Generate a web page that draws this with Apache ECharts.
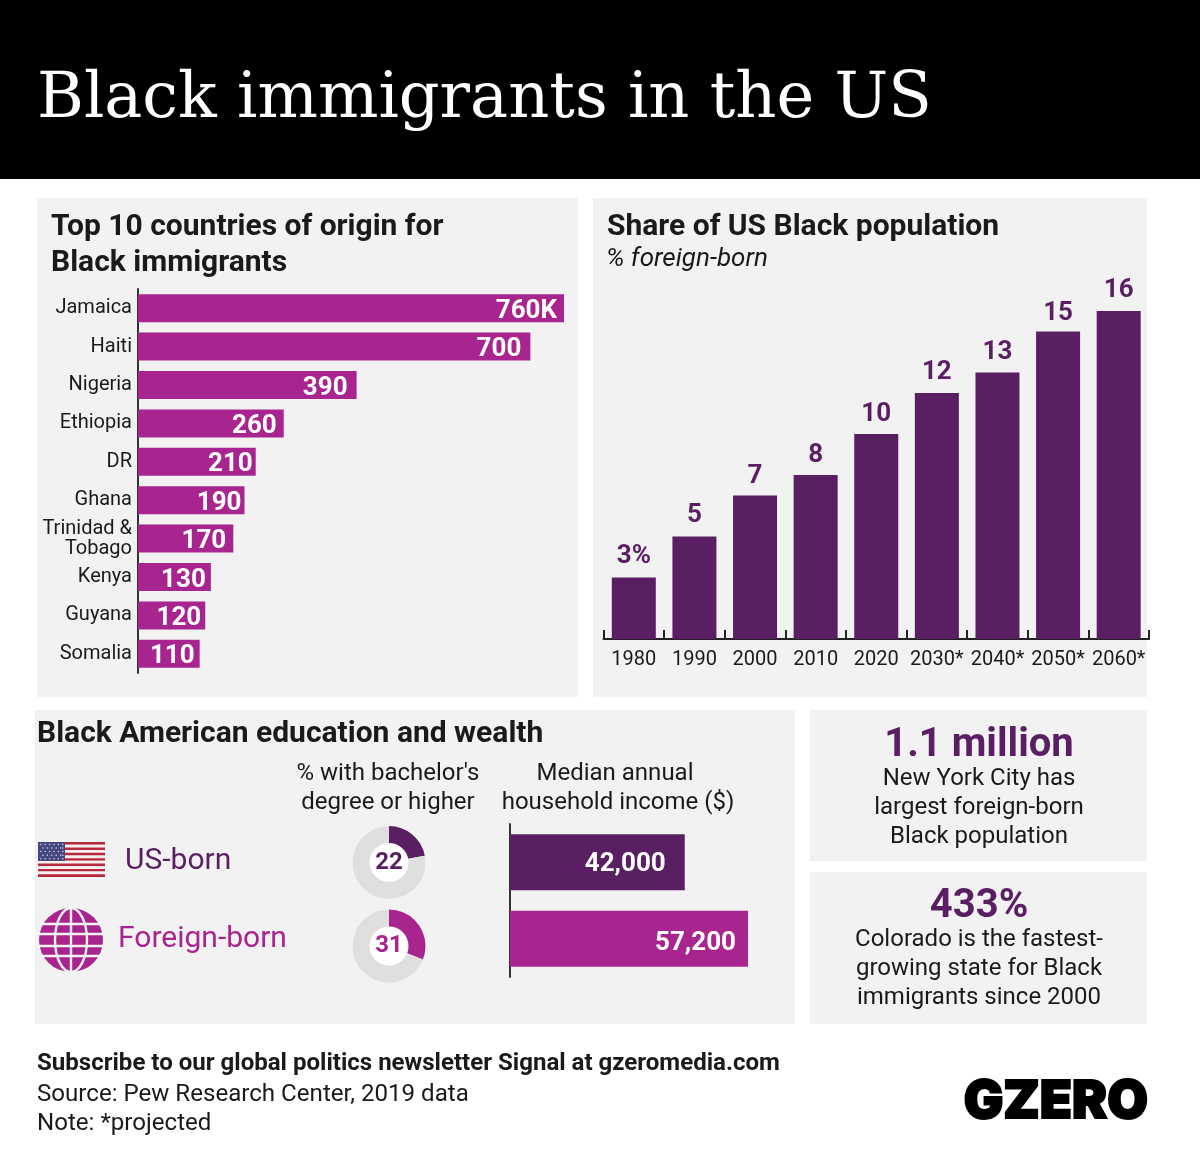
<!DOCTYPE html>
<html>
<head>
<meta charset="utf-8">
<title>Black immigrants in the US</title>
<style>
    html, body { margin: 0; padding: 0; background: #ffffff; }
    #my_chart { width: 1200px; height: 1156px; }
</style>
</head>
<body>
<div id="my_chart"></div>
<script src="https://cdn.jsdelivr.net/npm/echarts@6/dist/echarts.min.js"></script>
<script>
    // chart values
    var countries = ['Jamaica', 'Haiti', 'Nigeria', 'Ethiopia', 'DR', 'Ghana', 'Trinidad &\nTobago', 'Kenya', 'Guyana', 'Somalia'];
    var immigrants = [760, 700, 390, 260, 210, 190, 170, 130, 120, 110];
    var years = ['1980', '1990', '2000', '2010', '2020', '2030*', '2040*', '2050*', '2060*'];
    var foreignShare = [3, 5, 7, 8, 10, 12, 13, 15, 16];
    var groups = ['US-born', 'Foreign-born'];
    var bachelors = [22, 31];
    var income = [42000, 57200];

    // the value labels in the original sit at uneven distances from the bar ends
    var countryLabelGaps = [7, 9, 9, 7, 3, 3, 7, 5, 4, 5];
    var shareLabelGaps = [8, 8, 6, 7, 7, 8, 7, 5, 8];
    var incomeLabelGaps = [19, 12];
    var incomeLabelDrops = [2, 5];

    var PURPLE = '#5a1f63', MAGENTA = '#a8248f', PANEL = '#f2f2f2', RING = '#dfdfdf', INK = '#1a1a1a';
    var FONT = 'Roboto';

    function txt(x, y, text, size, opts) {
        opts = opts || {};
        return {
            type: 'text', x: x, y: y, z: 5, silent: true,
            style: {
                text: text,
                fontFamily: opts.family || FONT,
                fontSize: size,
                fontWeight: opts.weight || 'normal',
                fontStyle: opts.italic ? 'italic' : 'normal',
                fill: opts.color || INK,
                stroke: opts.stroke || null,
                lineWidth: opts.strokeWidth || 0,
                align: opts.align || 'left',
                verticalAlign: 'middle'
            }
        };
    }

    function panel(x, y, w, h, color) {
        return { type: 'rect', z: -10, silent: true, shape: { x: x, y: y, width: w, height: h }, style: { fill: color || PANEL } };
    }

    function flag(x, y, w, h) {
        var out = [];
        var sh = h / 13;
        for (var i = 0; i < 13; i++) {
            out.push({ type: 'rect', z: 1, silent: true, shape: { x: x, y: y + i * sh, width: w, height: sh },
                style: { fill: i % 2 ? '#f6f0f0' : '#b8283c' } });
        }
        out.push({ type: 'rect', z: 2, silent: true, shape: { x: x, y: y, width: 27, height: 19 }, style: { fill: '#45477f' } });
        for (var r = 0; r < 5; r++) {
            for (var c = 0; c < 6; c++) {
                out.push({ type: 'circle', z: 3, silent: true,
                    shape: { cx: x + 2.8 + c * 4.4 + (r % 2 ? 2.2 : 0) * (c < 5 ? 1 : 0), cy: y + 2.4 + r * 3.6, r: 0.75 },
                    style: { fill: '#d8d8e6' } });
            }
        }
        return out;
    }

    function globe(cx, cy, r) {
        var line = { stroke: PANEL, lineWidth: 2.4, fill: null };
        var out = [{ type: 'circle', z: 1, silent: true, shape: { cx: cx, cy: cy, r: r }, style: { fill: MAGENTA } }];
        [-16, -6, 6, 16].forEach(function (d) {
            out.push({ type: 'line', z: 2, silent: true, shape: { x1: cx - r, y1: cy + d, x2: cx + r, y2: cy + d }, style: line });
        });
        out.push({ type: 'line', z: 2, silent: true, shape: { x1: cx, y1: cy - r, x2: cx, y2: cy + r }, style: line });
        out.push({ type: 'ellipse', z: 2, silent: true, shape: { cx: cx, cy: cy, rx: 16, ry: r }, style: line });
        return out;
    }

    var elements = [
        panel(0, 0, 1200, 179, '#000000'),
        panel(37, 198, 541, 499),
        panel(593, 198, 554, 499),
        panel(35, 710, 760, 314),
        panel(810, 710, 337, 151),
        panel(810, 872, 337, 152),
        { type: 'circle', z: 1, silent: true, shape: { cx: 389, cy: 863, r: 20 }, style: { fill: '#ffffff' } },
        { type: 'circle', z: 1, silent: true, shape: { cx: 389, cy: 946, r: 20 }, style: { fill: '#ffffff' } },

        txt(37, 100, 'Black immigrants in the US', 63.8, { family: 'DejaVu Serif', color: '#ffffff' }),

        txt(51, 227, 'Top 10 countries of origin for', 30, { weight: 'bold' }),
        txt(51, 263, 'Black immigrants', 30, { weight: 'bold' }),
        txt(607, 227, 'Share of US Black population', 30, { weight: 'bold' }),
        txt(606, 259, '% foreign-born', 26, { italic: true }),
        txt(37, 734, 'Black American education and wealth', 30, { weight: 'bold' }),

        txt(388, 774, '% with bachelor\'s', 24, { align: 'center' }),
        txt(388, 803, 'degree or higher', 24, { align: 'center' }),
        txt(615, 774, 'Median annual', 24, { align: 'center' }),
        txt(618, 803, 'household income ($)', 24, { align: 'center' }),
        txt(125, 861, groups[0], 30, { color: PURPLE }),
        txt(118, 939, groups[1], 30, { color: MAGENTA }),

        txt(979, 746, '1.1 million', 40, { weight: 'bold', color: PURPLE, align: 'center' }),
        txt(979, 779, 'New York City has', 24, { align: 'center' }),
        txt(979, 808, 'largest foreign-born', 24, { align: 'center' }),
        txt(979, 837, 'Black population', 24, { align: 'center' }),
        txt(979, 907, '433%', 40, { weight: 'bold', color: PURPLE, align: 'center' }),
        txt(979, 940, 'Colorado is the fastest-', 24, { align: 'center' }),
        txt(979, 969, 'growing state for Black', 24, { align: 'center' }),
        txt(979, 998, 'immigrants since 2000', 24, { align: 'center' }),

        txt(37, 1064, 'Subscribe to our global politics newsletter Signal at gzeromedia.com', 24.06, { weight: 'bold' }),
        txt(37, 1095, 'Source: Pew Research Center, 2019 data', 24.1),
        txt(37, 1124, 'Note: *projected', 24.1),
        txt(1148, 1102, 'GZERO', 52.6, { family: 'Inter', weight: 900, color: '#000000', stroke: '#000000', strokeWidth: 2, align: 'right' })
    ].concat(flag(38, 842, 67, 35), globe(71, 940, 32));

    function donut(value, total, cy, color) {
        return {
            type: 'pie',
            center: [389, cy],
            radius: [19.5, 36.5],
            startAngle: 90,
            silent: true,
            label: { show: false },
            labelLine: { show: false },
            data: [
                { value: value, itemStyle: { color: color },
                  label: { show: true, position: 'center', formatter: String(value), color: color,
                      fontFamily: FONT, fontWeight: 'bold', fontSize: 24, padding: [9, 0, 0, 0] } },
                { value: total - value, itemStyle: { color: RING } }
            ]
        };
    }

    var myChart = echarts.init(document.getElementById('my_chart'));
    var option = {
        animation: false,
        backgroundColor: '#ffffff',
        graphic: { elements: elements },
        grid: [
            { left: 138, top: 289, width: 426, height: 384 },
            { left: 603.5, top: 311, width: 545.5, height: 328 },
            { left: 510, top: 824, width: 238, height: 153 }
        ],
        xAxis: [
            { gridIndex: 0, type: 'value', min: 0, max: 760, show: false },
            {
                gridIndex: 1, type: 'category', data: years,
                axisLine: { lineStyle: { color: '#222222', width: 2 } },
                axisTick: { show: true, inside: true, length: 9, lineStyle: { color: '#222222', width: 2 } },
                axisLabel: { color: INK, fontFamily: FONT, fontSize: 20, margin: 11, interval: 0 }
            },
            { gridIndex: 2, type: 'value', min: 0, max: 57200, show: false }
        ],
        yAxis: [
            {
                gridIndex: 0, type: 'category', data: countries, inverse: true,
                axisLine: { lineStyle: { color: '#333333', width: 2 } },
                axisTick: { show: false },
                axisLabel: { color: INK, fontFamily: FONT, fontSize: 20, lineHeight: 20, margin: 6, interval: 0, padding: [0, 0, 4, 0] }
            },
            { gridIndex: 1, type: 'value', min: 0, max: 16, show: false },
            {
                gridIndex: 2, type: 'category', data: groups, inverse: true,
                axisLine: { lineStyle: { color: '#333333', width: 2 } },
                axisTick: { show: false },
                axisLabel: { show: false }
            }
        ],
        series: [
            {
                type: 'bar', xAxisIndex: 0, yAxisIndex: 0, barWidth: 28, silent: true,
                data: immigrants.map(function (v, i) {
                    return { value: v, label: { distance: countryLabelGaps[i] } };
                }),
                itemStyle: { color: MAGENTA },
                label: {
                    show: true, position: 'insideRight', color: '#ffffff', offset: [0, 3],
                    fontFamily: FONT, fontWeight: 'bold', fontSize: 26,
                    formatter: function (p) { return p.dataIndex === 0 ? p.value + 'K' : String(p.value); }
                }
            },
            {
                type: 'bar', xAxisIndex: 1, yAxisIndex: 1, barWidth: 44, silent: true,
                data: foreignShare.map(function (v, i) {
                    return { value: v, label: { distance: shareLabelGaps[i] } };
                }),
                itemStyle: { color: PURPLE },
                label: {
                    show: true, position: 'top', color: PURPLE,
                    fontFamily: FONT, fontWeight: 'bold', fontSize: 26,
                    formatter: function (p) { return p.dataIndex === 0 ? p.value + '%' : String(p.value); }
                }
            },
            {
                type: 'bar', xAxisIndex: 2, yAxisIndex: 2, barWidth: 56, silent: true,
                data: income.map(function (v, i) {
                    return {
                        value: v,
                        itemStyle: { color: i ? MAGENTA : PURPLE },
                        label: { distance: incomeLabelGaps[i], offset: [0, incomeLabelDrops[i]] }
                    };
                }),
                label: {
                    show: true, position: 'insideRight', color: '#ffffff',
                    fontFamily: FONT, fontWeight: 'bold', fontSize: 26,
                    formatter: function (p) { return p.value.toLocaleString('en-US'); }
                }
            },
            donut(bachelors[0], 100, 862.5, PURPLE),
            donut(bachelors[1], 100, 946, MAGENTA)
        ]
    };

    myChart.setOption(option);
</script>
</body>
</html>
